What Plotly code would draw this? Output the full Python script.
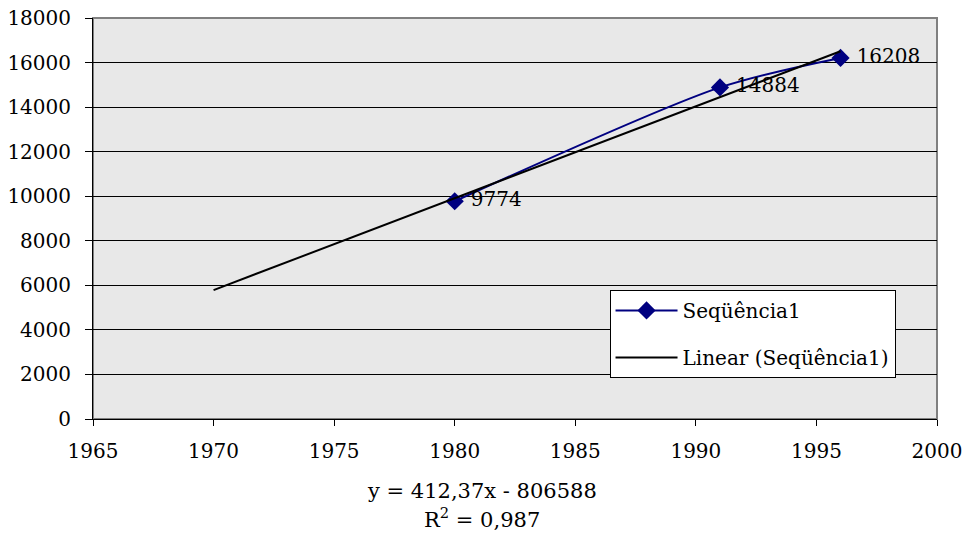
import numpy as np
import plotly.graph_objects as go

years = [1980, 1991, 1996]
values = [9774, 14884, 16208]
series_name = "Seqüência1"
trend_name = "Linear (Seqüência1)"
trend_start = 1970
equation_text = "y = 412,37x - 806588"
r2_text = "R<sup>2</sup> = 0,987"

slope, intercept = np.polyfit(years, values, 1)
trend_x = np.array([trend_start, max(years)])
trend_y = slope * trend_x + intercept

FONT = "DejaVu Serif"

fig = go.Figure()
fig.add_trace(go.Scatter(
    x=years, y=values, name=series_name, legendgroup="a",
    mode="lines+markers+text",
    line=dict(color="#000080", width=2, shape="spline", smoothing=0.8),
    marker=dict(symbol="diamond", size=14, color="#000080"),
    text=["\u00a0" + str(v) for v in values], textposition="middle right",
    textfont=dict(family=FONT, size=20, color="black"),
))
fig.add_trace(go.Scatter(
    x=trend_x, y=trend_y, name=trend_name, mode="lines", legendgroup="b",
    line=dict(color="black", width=2),
))

fig.update_layout(
    width=972, height=537,
    margin=dict(l=93, r=35, t=18, b=118, autoexpand=False),
    paper_bgcolor="white", plot_bgcolor="#e8e8e8",
    font=dict(family=FONT, size=20, color="black"),
    showlegend=True,
    legend=dict(
        x=0.612, y=0.322, xanchor="left", yanchor="top",
        bgcolor="white", bordercolor="black", borderwidth=1,
        font=dict(family=FONT, size=20), tracegroupgap=18,
        itemwidth=62,
    ),
    shapes=[dict(type="rect", xref="paper", yref="paper", x0=0, y0=0, x1=1, y1=1,
                 line=dict(color="#808080", width=2), layer="below")],
    annotations=[
        dict(text=equation_text, xref="paper", yref="paper", x=0.461, y=-0.18,
             showarrow=False, font=dict(family=FONT, size=21), yanchor="middle"),
        dict(text=r2_text, xref="paper", yref="paper", x=0.461, y=-0.247,
             showarrow=False, font=dict(family=FONT, size=21), yanchor="middle"),
    ],
)
fig.update_xaxes(range=[1965, 2000], dtick=5, tick0=1965, showgrid=False,
                 showline=True, linecolor="black", linewidth=1,
                 ticks="outside", ticklen=6, tickcolor="black", zeroline=False,
                 ticklabelstandoff=8, ticklabeloverflow="allow", automargin=False)
fig.update_yaxes(range=[0, 18000], dtick=2000, showgrid=True, gridcolor="black",
                 gridwidth=1, showline=True, linecolor="black", linewidth=1,
                 ticks="outside", ticklen=7, tickcolor="black", zeroline=False,
                 tickformat="d", ticklabelstandoff=10, ticklabeloverflow="allow",
                 automargin=False)

fig.write_html("out.html",
               config={"displayModeBar": False},
               post_script="document.body.style.margin='0';document.body.style.overflow='hidden';")
